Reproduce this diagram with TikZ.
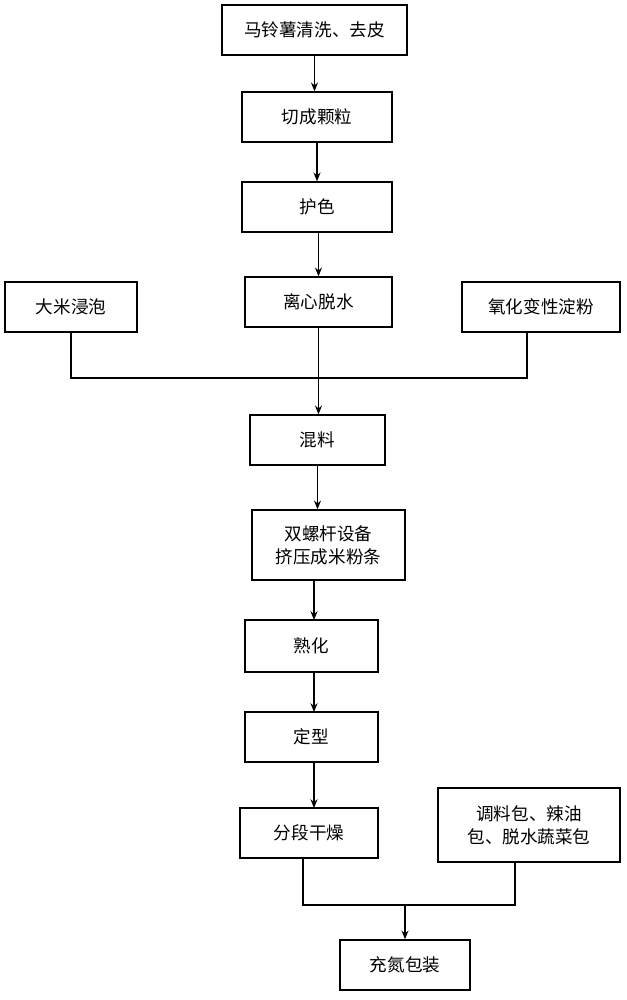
\documentclass[tikz,border=0pt]{standalone}
\usepackage{fontspec}
\setmainfont{Noto Sans CJK SC}
\usetikzlibrary{arrows.meta}
\begin{document}
\begin{tikzpicture}[x=0.02cm,y=-0.02cm,
  bx/.style={draw,line width=0.8pt,inner sep=0pt,align=center,font=\fontsize{10pt}{13pt}\selectfont},
  ar/.style={-{Stealth[length=5pt,width=4pt]},line width=0.6pt},
  ln/.style={line width=0.6pt}]
\useasboundingbox (0,0) rectangle (626,1000);
\node[bx,minimum width=185*0.02cm,minimum height=50*0.02cm] (a) at (314.5,30) {马铃薯清洗、去皮};
\node[bx,minimum width=150*0.02cm,minimum height=50*0.02cm] (b) at (317,117) {切成颗粒};
\node[bx,minimum width=150*0.02cm,minimum height=50*0.02cm] (c) at (317,207) {护色};
\node[bx,minimum width=147*0.02cm,minimum height=50*0.02cm] (d) at (318.5,302) {离心脱水};
\node[bx,minimum width=132*0.02cm,minimum height=50*0.02cm] (e) at (71,307) {大米浸泡};
\node[bx,minimum width=158*0.02cm,minimum height=50*0.02cm] (f) at (541,307) {氧化变性淀粉};
\node[bx,minimum width=135*0.02cm,minimum height=50*0.02cm] (g) at (317.5,440) {混料};
\node[bx,minimum width=153*0.02cm,minimum height=70*0.02cm] (h) at (328.5,545) {双螺杆设备\\挤压成米粉条};
\node[bx,minimum width=133*0.02cm,minimum height=52*0.02cm] (i) at (311.5,646) {熟化};
\node[bx,minimum width=133*0.02cm,minimum height=50*0.02cm] (j) at (311.5,737) {定型};
\node[bx,minimum width=138*0.02cm,minimum height=50*0.02cm] (k) at (309,833) {分段干燥};
\node[bx,minimum width=182*0.02cm,minimum height=74*0.02cm] (l) at (529,825) {调料包、辣油\\包、脱水蔬菜包};
\node[bx,minimum width=130*0.02cm,minimum height=50*0.02cm] (m) at (405,965) {充氮包装};
\draw[ar] (a) -- (a|-b.north);
\draw[ar] (b) -- (b|-c.north);
\draw[ar] (c.south-|d) -- (d);
\coordinate (jl) at (70,378); \coordinate (jr) at (527,378);
\draw[ln] (e.south) -- (e.south|-jl) -- (jr) -- (jr|-f.south);
\draw[ar] (d.south) -- (d.south|-g.north);
\draw[ar] (g.south) -- (g.south|-h.north);
\draw[ar] (314,580) -- (314,620);
\draw[ar] (314,672) -- (314,712);
\draw[ar] (314,762) -- (314,808);
\coordinate (bl) at (303,905); \coordinate (br) at (515,905);
\draw[ln] (bl|-k.south) -- (bl) -- (br) -- (br|-l.south);
\draw[ar] (405,905) -- (m.north);
\end{tikzpicture}
\end{document}
